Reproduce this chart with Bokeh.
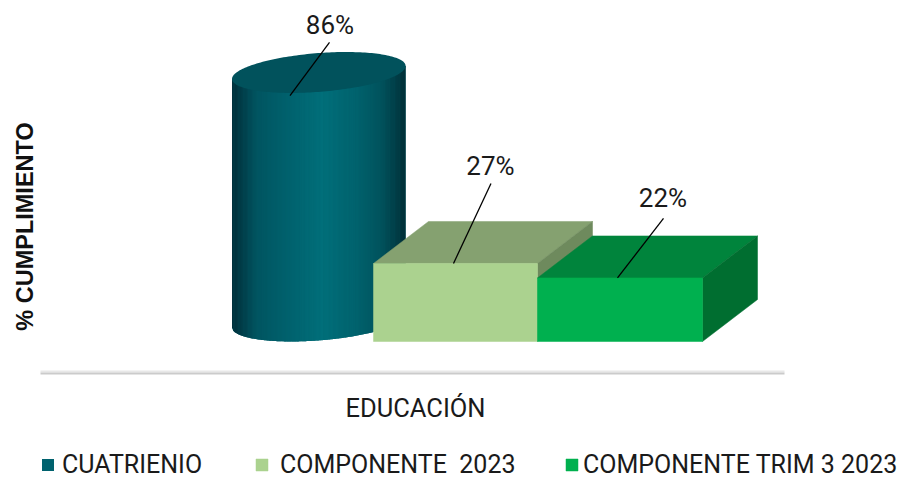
import numpy as np
from bokeh.plotting import figure
from bokeh.embed import file_html
from bokeh.resources import INLINE
from bokeh.core.properties import value
from bokeh.models import Range1d, FixedTicker, Legend, LegendItem

# ---- data
category = ["EDUCACIÓN"]
series = ["CUATRIENIO", "COMPONENTE  2023", "COMPONENTE TRIM 3 2023"]
values = [86, 27, 22]
value_labels = ["86%", "27%", "22%"]
y_title = ["% CUMPLIMIENTO"]

# ---- layout
S = 2.89                 # pixels per percent
BASE = 341               # picture row of the zero line
W, H = 898, 479
FONT = "Roboto"
FS = "25px"
box_x = [(373, 537), (537, 702)]
DX, DY = 55, 42 / S      # box depth
cyl_cx, cyl_a = 318.3, 86.8
cyl_base = 20.5 / S      # cylinder centre sits behind the box front
shear, cyl_b = 6.5 / S, 19.4 / S
leader_x = [(289.5, 329), (453, 490.5), (617, 663)]
leader_from = [-0.9, 0, 0]
leader_to = [17.5, 27.7, 20.6]
label_x = [329.5, 490, 662.5]
label_up = [23.6, 33.8, 27.8]
c_front = ["#00626e", "#abd28f", "#00b04f"]
c_top = ["#01525c", "#85a170", "#00843c"]
c_side = [None, "#6e8a5d", "#006e30"]
stops_t = [0, .06, .14, .27, .52, .72, .86, .95, 1]
stops_c = [(1, 48, 60), (1, 62, 73), (1, 84, 96), (0, 94, 106), (1, 111, 122),
           (0, 98, 109), (1, 82, 92), (1, 60, 69), (1, 44, 52)]
row = lambda y: (BASE - y) / S   # picture row -> percent

p = figure(width=W, height=H, output_backend="svg", toolbar_location=None,
           x_range=Range1d(0, W), y_range=Range1d(row(H), row(0)),
           min_border_left=0, min_border_right=0, min_border_top=0, min_border_bottom=0)
p.outline_line_color = None
p.grid.visible = False
p.yaxis.visible = False
p.background_fill_color = "white"
p.border_fill_color = "white"

# x axis, drawn inside the frame at the floor of the chart
ax = p.xaxis[0]
ax.fixed_location = row(373)
ax.bounds = (40, 784)
ax.ticker = FixedTicker(ticks=[415])
ax.major_label_overrides = {415: category[0]}
ax.major_tick_line_color = None
ax.minor_tick_line_color = None
ax.axis_line_color = "#cbcbcb"
ax.axis_line_width = 2
ax.major_label_standoff = 13
ax.major_label_text_font = FONT
ax.major_label_text_font_size = "25.5px"
ax.major_label_text_color = "#1a1a1a"
p.line([40, 784], [row(371), row(371)], line_color="#e8e8e8", line_width=2)

# y title
p.text(x=[24], y=[row(226)], text=y_title, angle=np.pi / 2, text_font=value("Liberation Sans"),
       text_font_style="bold", text_font_size="23.5px", text_color="#111111",
       text_align="center", text_baseline="middle")

# cylinder
ctop = values[0] + cyl_base
u = np.linspace(-1, 1, 140)
bot = lambda q: cyl_base + shear * q - cyl_b * np.sqrt(np.clip(1 - q * q, 0, 1))
base_r = p.patch(np.r_[cyl_cx + cyl_a * u, (cyl_cx + cyl_a * u)[::-1]],
                 np.r_[bot(u), (ctop + shear * u)[::-1]],
                 fill_color=c_front[0], line_color=None)
xs, ys, cols = [], [], []
for a, b in zip(u[:-1], u[1:]):
    m = (a + b) / 2
    t = (m + 1) / 2
    col = [int(round(np.interp(t, stops_t, [c[i] for c in stops_c]))) for i in range(3)]
    b2 = min(b + 0.004, 1)
    xs.append([cyl_cx + cyl_a * a, cyl_cx + cyl_a * b2, cyl_cx + cyl_a * b2, cyl_cx + cyl_a * a])
    ys.append([bot(a), bot(b2), ctop + shear * b2, ctop + shear * a])
    cols.append("#%02x%02x%02x" % tuple(col))
p.patches(xs, ys, fill_color=cols, line_color=None)
th = np.linspace(0, 2 * np.pi, 200)
p.patch(cyl_cx + cyl_a * np.cos(th), ctop + shear * np.cos(th) + cyl_b * np.sin(th),
        fill_color=c_top[0], line_color=None)

# boxes
fronts = [base_r]
for i, (x0, x1) in enumerate(box_x, start=1):
    v = values[i]
    p.patch([x0, x0 + DX, x1 + DX, x1], [v, v + DY, v + DY, v],
            fill_color=c_top[i], line_color=c_top[i], line_width=0.5)
    p.patch([x1, x1 + DX, x1 + DX, x1], [v, v + DY, DY, 0],
            fill_color=c_side[i], line_color=c_side[i], line_width=0.5)
    fronts.append(p.quad(left=[x0], right=[x1], bottom=[0], top=[v],
                         fill_color=c_front[i], line_color=c_front[i], line_width=0.5))

# leaders and value labels
for i, v in enumerate(values):
    p.line(list(leader_x[i]), [v + leader_from[i], v + leader_to[i]], line_color="black", line_width=1.3)
p.text(x=label_x, y=[v + d for v, d in zip(values, label_up)], text=value_labels,
       text_font=value(FONT), text_font_size="26px", text_color="#1a1a1a",
       text_align="center", text_baseline="middle")

# legends
legend_x = [40, 254, 564]
legend_standoff = [7, 11, 4]
for i in range(3):
    lg = Legend(items=[LegendItem(label=value(series[i]), renderers=[fronts[i]])],
                location=(legend_x[i], 0), orientation="horizontal",
                margin=0, padding=0, glyph_width=15, glyph_height=15,
                label_standoff=legend_standoff[i], label_text_font=FONT,
                label_text_font_size=FS, label_text_color="#1a1a1a",
                border_line_color=None, background_fill_alpha=0)
    p.add_layout(lg, "center")

open("out.html", "w").write(file_html(p, INLINE))
